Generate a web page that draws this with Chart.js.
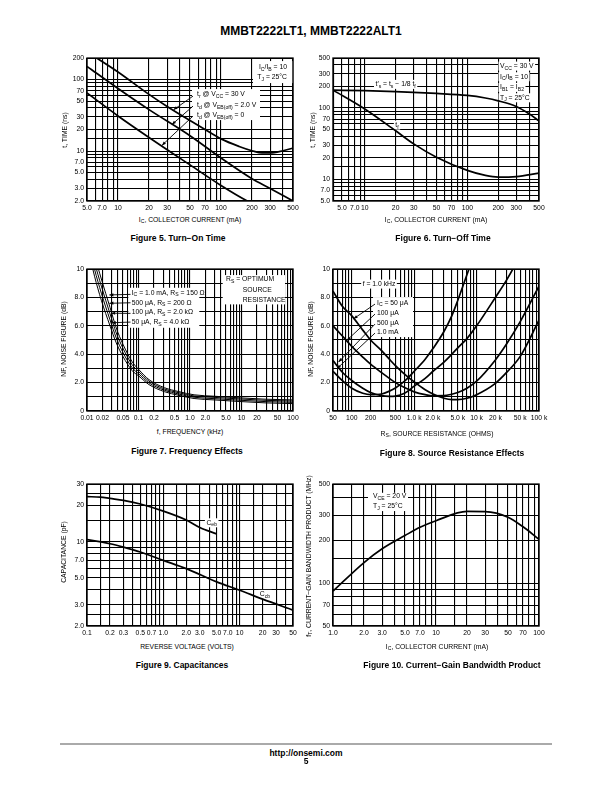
<!DOCTYPE html>
<html>
<head>
<meta charset="utf-8">
<script src="https://cdn.jsdelivr.net/npm/chart.js@4.4.1/dist/chart.umd.min.js"></script>
<style>
  body { margin: 0; width: 612px; height: 792px; position: relative; background: #fff; color: #000;
         font-family: 'Liberation Sans', Arial, sans-serif; overflow: hidden; }
  canvas { position: absolute; }
  .t { position: absolute; white-space: nowrap; transform: translate(-50%, -50%);
       font-family: 'Liberation Sans Narrow', 'Arial Narrow', 'Liberation Sans', Arial, sans-serif; font-size: 6.8px; }
  .ty { transform: translate(-50%, -50%) rotate(-90deg); }
  .cap { position: absolute; white-space: nowrap; transform: translate(-50%, -50%); font-weight: bold; font-size: 8.5px; }
  .hd { position: absolute; white-space: nowrap; transform: translate(-50%, -50%); font-weight: bold; font-size: 12px; }
  sub { font-size: 75%; vertical-align: -0.3em; line-height: 0; }
  .rule { position: absolute; left: 60px; top: 743px; width: 492px; height: 1.5px; background: #aaa; }
</style>
</head>
<body>

<div class="hd" style="left:311px;top:31px">MMBT2222LT1, MMBT2222ALT1</div>

<canvas id="fig5" width="250" height="164" style="left:57px;top:51px"></canvas>
<canvas id="fig6" width="250" height="164" style="left:303px;top:51px"></canvas>
<canvas id="fig7" width="250" height="163" style="left:57px;top:262px"></canvas>
<canvas id="fig8" width="250" height="163" style="left:303px;top:262px"></canvas>
<canvas id="fig9" width="250" height="163" style="left:57px;top:477px"></canvas>
<canvas id="fig10" width="250" height="163" style="left:303px;top:477px"></canvas>

<!-- axis titles -->
<div class="t" style="left:190px;top:219px">I<sub>C</sub>, COLLECTOR CURRENT (mA)</div>
<div class="t ty" style="left:64px;top:130px">t, TIME (ns)</div>
<div class="t" style="left:436px;top:219px">I<sub>C</sub>, COLLECTOR CURRENT (mA)</div>
<div class="t ty" style="left:312px;top:130px">t, TIME (ns)</div>
<div class="t" style="left:190px;top:431px">f, FREQUENCY (kHz)</div>
<div class="t ty" style="left:63px;top:339px">NF, NOISE FIGURE (dB)</div>
<div class="t" style="left:437px;top:433px">R<sub>S</sub>, SOURCE RESISTANCE (OHMS)</div>
<div class="t ty" style="left:310px;top:339px">NF, NOISE FIGURE (dB)</div>
<div class="t" style="left:187px;top:646px">REVERSE VOLTAGE (VOLTS)</div>
<div class="t ty" style="left:63px;top:552px">CAPACITANCE (pF)</div>
<div class="t" style="left:437px;top:646px">I<sub>C</sub>, COLLECTOR CURRENT (mA)</div>
<div class="t ty" style="left:308px;top:556px">f<sub>T</sub>, CURRENT−GAIN BANDWIDTH PRODUCT (MHz)</div>

<!-- captions -->
<div class="cap" style="left:178px;top:237.5px">Figure 5. Turn−On Time</div>
<div class="cap" style="left:443px;top:237.5px">Figure 6. Turn−Off Time</div>
<div class="cap" style="left:187px;top:451px">Figure 7. Frequency Effects</div>
<div class="cap" style="left:452px;top:453px">Figure 8. Source Resistance Effects</div>
<div class="cap" style="left:182px;top:664.5px">Figure 9. Capacitances</div>
<div class="cap" style="left:452px;top:664.5px">Figure 10. Current−Gain Bandwidth Product</div>

<div class="rule"></div>
<div class="cap" style="left:306px;top:752.5px">http://onsemi.com</div>
<div class="cap" style="left:306px;top:761px">5</div>

<script>
const FONT = "'Liberation Sans Narrow','Arial Narrow','Liberation Sans',Arial,sans-serif";

// ---- Figure 5: turn-on time (IC in mA, t in ns) ----
const f5TrX = [5, 10, 20, 30, 50, 70, 100, 150, 200, 250, 300, 400, 500];
const f5Tr = [245, 128, 62, 42, 26.7, 20, 14.8, 11.6, 10.1, 9.4, 9.4, 10.1, 11];
const f5Td2X = [5, 10, 20, 50, 100, 200, 300, 500];
const f5Td2 = [153, 75, 38, 16.4, 8.0, 4.1, 3.0, 2.0];
const f5Td0X = [5, 10, 20, 50, 100, 180, 250];
const f5Td0 = [65, 31, 15.5, 6.4, 3.3, 2.0, 1.6];
const f5XTicks = [5, 7, 10, 20, 30, 50, 70, 100, 200, 300, 500];
const f5XLabels = ['5.0', '7.0', '10', '20', '30', '50', '70', '100', '200', '300', '500'];
const f5YTicks = [2, 3, 5, 7, 10, 20, 30, 50, 70, 100, 200];
const f5YLabels = ['2.0', '3.0', '5.0', '7.0', '10', '20', '30', '50', '70', '100', '200'];

// ---- Figure 6: turn-off time ----
const f6TsX = [4.9, 10, 20, 50, 100, 150, 200, 300, 400, 500];
const f6Ts = [178, 175, 170, 160, 150, 138, 126, 105, 83, 66];
const f6TfX = [4.9, 10, 20, 30, 50, 100, 150, 200, 300, 500];
const f6Tf = [178, 97, 48, 31.5, 20.5, 13.4, 11.4, 10.8, 11, 12.3];
// the reference prints "5.0" and "7.0" on the 6 and 8 grid lines
const f6XTicks = [6, 8, 10, 20, 30, 50, 70, 100, 200, 300, 500];
const f6XLabels = ['5.0', '7.0', '10', '20', '30', '50', '70', '100', '200', '300', '500'];
const f6YTicks = [5, 7, 10, 20, 30, 50, 70, 100, 200, 300, 500];
const f6YLabels = ['5.0', '7.0', '10', '20', '30', '50', '70', '100', '200', '300', '500'];

// ---- Figure 7: noise figure vs frequency (kHz, dB) ----
const f7X = [0.01, 0.014, 0.019, 0.028, 0.037, 0.05, 0.075, 0.1, 0.16, 0.32, 0.6, 1.2, 3, 9, 30, 100];
const f7Nf1mA = [13.3, 11.0, 9.3, 7.3, 5.85, 4.7, 3.48, 2.94, 2.21, 1.64, 1.37, 1.14, 1.04, 0.93, 0.83, 0.78];
const f7Nf500u = [12.8, 10.5, 8.8, 6.85, 5.5, 4.42, 3.27, 2.79, 2.1, 1.55, 1.29, 1.06, 0.96, 0.85, 0.75, 0.7];
const f7Nf100u = [12.3, 10.0, 8.3, 6.42, 5.15, 4.12, 3.06, 2.63, 1.98, 1.46, 1.2, 0.97, 0.87, 0.76, 0.66, 0.61];
const f7Nf50u = [11.8, 9.5, 7.8, 6.0, 4.8, 3.84, 2.85, 2.48, 1.86, 1.36, 1.11, 0.88, 0.78, 0.67, 0.57, 0.52];
const f7XTicks = [0.01, 0.02, 0.05, 0.1, 0.2, 0.5, 1, 2, 5, 10, 20, 50, 100];
const f7XLabels = ['0.01', '0.02', '0.05', '0.1', '0.2', '0.5', '1.0', '2.0', '5.0', '10', '20', '50', '100'];
const nfYTicks = [0, 2, 4, 6, 8, 10];
const nfYLabels = ['0', '2.0', '4.0', '6.0', '8.0', '10'];

// ---- Figure 8: noise figure vs source resistance (ohms, dB) ----
const f8X = [50, 70, 100, 150, 200, 300, 400, 500, 700, 1000, 1500, 2000, 3000, 4000, 5000, 7000, 10000, 20000, 30000, 50000, 100000];
const f8Nf50u = [8.45, 7.4, 6.7, 5.7, 5.0, 4.25, 3.65, 3.2, 2.6, 2.05, 1.5, 1.2, 0.9, 0.8, 0.8, 0.9, 1.15, 1.95, 2.7, 3.85, 6.4];
const f8Nf100u = [6.0, 5.3, 4.55, 3.8, 3.3, 2.7, 2.3, 2.0, 1.65, 1.35, 1.15, 1.07, 1.08, 1.18, 1.3, 1.6, 2.1, 3.6, 4.7, 6.3, 8.8];
const f8Nf500u = [3.55, 2.75, 2.15, 1.6, 1.3, 1.08, 1.03, 1.05, 1.25, 1.75, 2.3, 2.8, 3.45, 4.0, 4.45, 5.1, 6.0, 8.0, 9.2, 11, 14];
const f8Nf1mA = [2.8, 2.15, 1.6, 1.25, 1.15, 1.2, 1.4, 1.62, 2.1, 2.8, 3.65, 4.4, 5.6, 6.7, 7.8, 9.6, 11.5, 15, 17, 20, 25];
const f8XTicks = [50, 100, 200, 500, 1000, 2000, 5000, 10000, 20000, 50000, 100000];
const f8XLabels = ['50', '100', '200', '500', '1.0 k', '2.0 k', '5.0 k', '10 k', '20 k', '50 k', '100 k'];

// ---- Figure 9: capacitances (V, pF) ----
const f9CebX = [0.1, 0.15, 0.2, 0.3, 0.5, 1, 2, 3, 5];
const f9Ceb = [23.6, 23.4, 22.8, 22.0, 20.5, 17.9, 15.1, 13.1, 11.6];
const f9CcbX = [0.1, 0.2, 0.3, 0.5, 1, 2, 5, 10, 20, 50];
const f9Ccb = [10.4, 9.6, 9.0, 8.2, 7.0, 5.98, 4.64, 3.96, 3.34, 2.71];
const f9XTicks = [0.1, 0.2, 0.3, 0.5, 0.7, 1, 2, 3, 5, 7, 10, 20, 30, 50];
const f9XLabels = ['0.1', '0.2', '0.3', '0.5', '0.7', '1.0', '2.0', '3.0', '5.0', '7.0', '10', '20', '30', '50'];
const f9YTicks = [2, 3, 5, 7, 10, 20, 30];
const f9YLabels = ['2.0', '3.0', '5.0', '7.0', '10', '20', '30'];

// ---- Figure 10: fT vs IC (mA, MHz) ----
const f10X = [1, 2, 3, 5, 7, 10, 20, 30, 50, 70, 100];
const f10Ft = [88, 140, 175, 217, 248, 276, 321, 320, 292, 250, 204];
const f10XTicks = [1, 2, 3, 5, 7, 10, 20, 30, 50, 70, 100];
const f10XLabels = ['1.0', '2.0', '3.0', '5.0', '7.0', '10', '20', '30', '50', '70', '100'];
const f10YTicks = [50, 70, 100, 200, 300, 500];
const f10YLabels = ['50', '70', '100', '200', '300', '500'];

const STD = [1, 2, 3, 4, 5, 6, 7, 8, 9];
const WITH_HALF = [1, 1.5, 2, 3, 4, 5, 6, 7, 8, 9];
function logGrid(min, max, steps) {
  const out = [];
  for (let e = Math.floor(Math.log10(min)) - 1; e <= Math.ceil(Math.log10(max)); e++) {
    steps.forEach(m => {
      const v = +(m * Math.pow(10, e)).toPrecision(6);
      if (v >= min * 0.9999 && v <= max * 1.0001) out.push(v);
    });
  }
  return out.sort((a, b) => a - b);
}
const linGrid = [0, 1, 2, 3, 4, 5, 6, 7, 8, 9, 10];

function pts(xs, ys) { return xs.map((x, i) => ({x, y: ys[i]})); }

function axis(type, min, max, grid, tv, tl, pos) {
  return {
    type, min, max, position: pos,
    afterBuildTicks: s => { s.ticks = grid.map(v => ({value: v})); },
    afterFit: s => { if (pos === 'left') s.width = 30; else s.height = 14; },
    grid: { color: '#000', lineWidth: 1.1, drawTicks: false },
    border: { display: false },
    ticks: {
      autoSkip: false, maxRotation: 0, minRotation: 0, padding: 3, color: '#000',
      font: { family: FONT, size: 6.8 },
      callback: v => {
        const i = tv.findIndex(t => Math.abs(t - v) <= 1e-6 * Math.max(1e-3, Math.abs(t)));
        return i < 0 ? '' : tl[i];
      }
    }
  };
}

function richParts(s) {
  const parts = [], re = /_\{([^}]*)\}/g;
  let last = 0, m;
  while ((m = re.exec(s))) {
    if (m.index > last) parts.push({t: s.slice(last, m.index)});
    parts.push({t: m[1], sub: true});
    last = re.lastIndex;
  }
  if (last < s.length) parts.push({t: s.slice(last)});
  return parts;
}

function drawRich(ctx, s, x, y, align, bg) {
  const size = 6.8;
  const parts = richParts(s);
  const fontOf = p => (p.sub ? size * 0.75 : size) + 'px ' + FONT;
  let w = 0;
  parts.forEach(p => { ctx.font = fontOf(p); p.w = ctx.measureText(p.t).width; w += p.w; });
  let cx = align === 'right' ? x - w : align === 'center' ? x - w / 2 : x;
  if (bg) { ctx.fillStyle = '#fff'; ctx.fillRect(cx - 1.5, y - 4.5, w + 3, 9); }
  ctx.fillStyle = '#000';
  ctx.textBaseline = 'middle';
  ctx.textAlign = 'left';
  parts.forEach(p => { ctx.font = fontOf(p); ctx.fillText(p.t, cx, p.sub ? y + size * 0.3 : y); cx += p.w; });
}

const notesPlugin = {
  id: 'notes',
  beforeDatasetsDraw(chart) {
    const {ctx, chartArea: a} = chart;
    const n = chart.options.plugins.notes || {};
    ctx.save();
    ctx.fillStyle = '#fff';
    (n.boxes || []).forEach(b => ctx.fillRect(a.left + b[0], a.top + b[1], b[2], b[3]));
    ctx.strokeStyle = '#000';
    ctx.lineWidth = 1.4;
    ctx.strokeRect(a.left, a.top, a.right - a.left, a.bottom - a.top);
    (n.texts || []).forEach(t => drawRich(ctx, t[0], a.left + t[1], a.top + t[2], t[3], t[4]));
    ctx.restore();
  },
  afterDatasetsDraw(chart) {
    const {ctx, chartArea: a, scales} = chart;
    const n = chart.options.plugins.notes || {};
    ctx.save();
    ctx.strokeStyle = '#000';
    ctx.fillStyle = '#000';
    ctx.lineWidth = 0.9;
    (n.arrows || []).forEach(r => {
      const x0 = a.left + r[0], y0 = a.top + r[1];
      const x1 = scales.x.getPixelForValue(r[2]), y1 = scales.y.getPixelForValue(r[3]);
      const ang = Math.atan2(y1 - y0, x1 - x0);
      ctx.beginPath(); ctx.moveTo(x0, y0); ctx.lineTo(x1, y1); ctx.stroke();
      ctx.beginPath();
      ctx.moveTo(x1, y1);
      ctx.lineTo(x1 - 4 * Math.cos(ang) + 1.6 * Math.sin(ang), y1 - 4 * Math.sin(ang) - 1.6 * Math.cos(ang));
      ctx.lineTo(x1 - 4 * Math.cos(ang) - 1.6 * Math.sin(ang), y1 - 4 * Math.sin(ang) + 1.6 * Math.cos(ang));
      ctx.closePath(); ctx.fill();
    });
    ctx.restore();
  }
};

function makeChart(id, xs, ys, series, notes, lineW) {
  return new Chart(document.getElementById(id), {
    type: 'line',
    data: {
      datasets: series.map(data => ({
        data, borderColor: '#000', borderWidth: lineW || 1.7, pointRadius: 0, fill: false,
        cubicInterpolationMode: 'monotone', clip: 0
      }))
    },
    options: {
      responsive: false, maintainAspectRatio: false, animation: false, events: [],
      layout: { padding: { left: 0, top: 6, right: 14, bottom: 0 } },
      scales: { x: xs, y: ys },
      plugins: { legend: { display: false }, tooltip: { enabled: false }, notes }
    },
    plugins: [notesPlugin]
  });
}

makeChart('fig5',
  axis('logarithmic', 5, 500, logGrid(5, 500, STD), f5XTicks, f5XLabels, 'bottom'),
  axis('logarithmic', 2, 200, logGrid(2, 200, STD).concat([15]), f5YTicks, f5YLabels, 'left'),
  [pts(f5TrX, f5Tr), pts(f5Td2X, f5Td2), pts(f5Td0X, f5Td0)],
  {
    boxes: [[166, 3, 40, 22], [105, 31, 68, 31]],
    texts: [
      ['I_{C}/I_{B} = 10', 200, 9, 'right'],
      ['T_{J} = 25°C', 200, 19, 'right'],
      ['t_{r} @ V_{CC} = 30 V', 110, 36.5, 'left'],
      ['t_{d} @ V_{EB(off)} = 2.0 V', 110, 47, 'left'],
      ['t_{d} @ V_{EB(off)} = 0', 110, 57, 'left']
    ],
    arrows: [[106, 38, 34.6, 37.7], [106, 48, 33.4, 23.5], [106, 58, 26.7, 12]]
  });

makeChart('fig6',
  axis('logarithmic', 4.9, 500, logGrid(5, 500, STD), f6XTicks, f6XLabels, 'bottom'),
  axis('logarithmic', 5, 500, logGrid(5, 500, STD).concat([15]), f6YTicks, f6YLabels, 'left'),
  [pts(f6TsX, f6Ts), pts(f6TfX, f6Tf)],
  {
    texts: [
      ['V_{CC} = 30 V', 167, 8, 'left', true],
      ['I_{C}/I_{B} = 10', 167, 18.7, 'left', true],
      ['I_{B1} = I_{B2}', 167, 29.3, 'left', true],
      ['T_{J} = 25°C', 167, 39.7, 'left', true],
      ['t′_{s} = t_{s} − 1/8 t_{f}', 42.5, 26.3, 'left', true],
      ['t_{f}', 64, 67, 'center', true]
    ]
  });

makeChart('fig7',
  axis('logarithmic', 0.01, 100, logGrid(0.01, 100, STD), f7XTicks, f7XLabels, 'bottom'),
  axis('linear', 0, 10, linGrid, nfYTicks, nfYLabels, 'left'),
  [pts(f7X, f7Nf1mA), pts(f7X, f7Nf500u), pts(f7X, f7Nf100u), pts(f7X, f7Nf50u)],
  {
    boxes: [[135.7, 6, 62.3, 29.3], [41.3, 18.7, 71, 40]],
    texts: [
      ['R_{S} = OPTIMUM', 139, 10.3, 'left'],
      ['SOURCE', 155.7, 21.3, 'left'],
      ['RESISTANCE', 155.7, 31.3, 'left'],
      ['I_{C} = 1.0 mA, R_{S} = 150 Ω', 44.7, 23.7, 'left'],
      ['500 μA, R_{S} = 200 Ω', 44.7, 33.7, 'left'],
      ['100 μA, R_{S} = 2.0 kΩ', 44.7, 43, 'left'],
      ['50 μA, R_{S} = 4.0 kΩ', 44.7, 53, 'left']
    ],
    arrows: [[43.5, 25.3, 0.0272, 8.18], [43.5, 33.7, 0.0272, 7.59], [43.5, 44.3, 0.0294, 6.89], [43.5, 53, 0.0302, 6.22]]
  }, 1.0);

makeChart('fig8',
  axis('logarithmic', 50, 100000, logGrid(50, 100000, STD), f8XTicks, f8XLabels, 'bottom'),
  axis('linear', 0, 10, linGrid, nfYTicks, nfYLabels, 'left'),
  [pts(f8X, f8Nf50u), pts(f8X, f8Nf100u), pts(f8X, f8Nf500u), pts(f8X, f8Nf1mA)],
  {
    boxes: [[40, 28, 40, 40]],
    texts: [
      ['f = 1.0 kHz', 46, 15, 'center', true],
      ['I_{C} = 50 μA', 44, 33.7, 'left'],
      ['100 μA', 44, 44.3, 'left'],
      ['500 μA', 44, 53.7, 'left'],
      ['1.0 mA', 44, 63, 'left']
    ],
    arrows: [[42, 35, 107, 6.5], [42, 45, 83.5, 4.98], [42, 55, 61.4, 3.45], [42, 64, 58, 2.99]]
  });

makeChart('fig9',
  axis('logarithmic', 0.1, 50, logGrid(0.1, 50, WITH_HALF), f9XTicks, f9XLabels, 'bottom'),
  axis('logarithmic', 2, 30, logGrid(2, 30, [1, 1.5, 2, 2.5, 3, 4, 5, 6, 7, 8, 9]), f9YTicks, f9YLabels, 'left'),
  [pts(f9CebX, f9Ceb), pts(f9CcbX, f9Ccb)],
  {
    texts: [
      ['C_{eb}', 124.7, 38.7, 'center', true],
      ['C_{cb}', 178, 110.3, 'center', true]
    ]
  });

makeChart('fig10',
  axis('logarithmic', 1, 100, logGrid(1, 100, WITH_HALF), f10XTicks, f10XLabels, 'bottom'),
  axis('logarithmic', 50, 500, logGrid(50, 500, WITH_HALF), f10YTicks, f10YLabels, 'left'),
  [pts(f10X, f10Ft)],
  {
    boxes: [[35, 8.7, 40, 18.3]],
    texts: [
      ['V_{CE} = 20 V', 40, 12, 'left'],
      ['T_{J} = 25°C', 40, 22, 'left']
    ]
  });
</script>
</body>
</html>
